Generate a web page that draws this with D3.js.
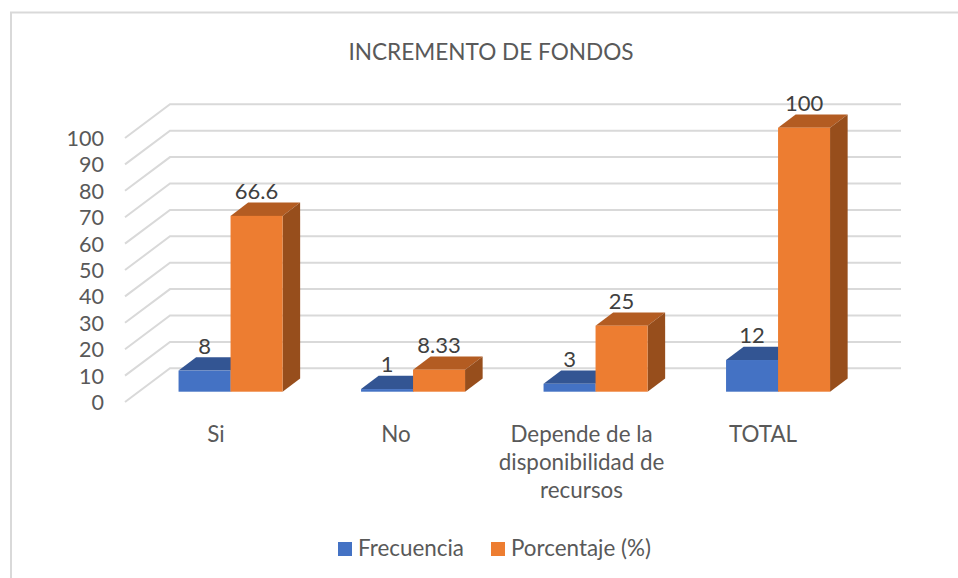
<!DOCTYPE html>
<html><head><meta charset="utf-8">
<script src="https://cdn.jsdelivr.net/npm/d3@7/dist/d3.min.js"></script>
<style>html,body{margin:0;background:#fff}svg{display:block}text{font-family:Lato,"Open Sans",sans-serif;fill:#595959}</style>
</head><body><div id="c"></div>
<script>
const categories=["Si","No","Depende de la disponibilidad de recursos","TOTAL"];
const categoryLines=[["Si"],["No"],["Depende de la","disponibilidad de","recursos"],["TOTAL"]];
const frecuencia=[8,1,3,12];
const porcentaje=[66.6,8.33,25,100];
const porcentajeLabels=["66.6","8.33","25","100"];
const ticks=[0,10,20,30,40,50,60,70,80,90,100];
const seriesNames=["Frecuencia","Porcentaje (%)"];
const W=958,H=578;
const svg=d3.select("#c").append("svg").attr("width",W).attr("height",H);
svg.append("path").attr("d","M11,578V12.5H958").attr("fill","none").attr("stroke","#d9d9d9").attr("stroke-width",2);
const y=d3.scaleLinear().domain([0,100]).range([391.7,127.7]);
const x=d3.scaleBand().domain(categories).range([140.3,870.3]);
const barW=52, depthX=17.6, depthY=13.3;
const wallDX=45, wallDY=33.7, wallLeft=125, wallRight=901;
const wy=v=>y(v)+10.3;
svg.append("text").attr("x",491).attr("y",60).attr("text-anchor","middle").attr("font-size",22.6).text("INCREMENTO DE FONDOS");
const grid=svg.append("g").attr("fill","none").attr("stroke","#d9d9d9").attr("stroke-width",2);
ticks.forEach(t=>{
  grid.append("path").attr("d",d3.line()([[wallLeft,wy(t)],[wallLeft+wallDX,wy(t)-wallDY],[wallRight,wy(t)-wallDY]]));
  svg.append("text").attr("x",104).attr("y",wy(t)+8).attr("text-anchor","end").attr("font-size",21.5).text(t);
});
function bar(g,x0,v,front,top,side){
  const y0=y(0),yt=y(v);
  const pts=a=>a.map(p=>p.join(",")).join(" ");
  g.append("polygon").attr("points",pts([[x0,yt],[x0+depthX,yt-depthY],[x0+barW+depthX,yt-depthY],[x0+barW,yt]])).attr("fill",top);
  g.append("polygon").attr("points",pts([[x0+barW,y0],[x0+barW+depthX,y0-depthY],[x0+barW+depthX,yt-depthY],[x0+barW,yt]])).attr("fill",side);
  g.append("rect").attr("x",x0).attr("y",yt).attr("width",barW).attr("height",y0-yt).attr("fill",front);
}
const g=svg.append("g");
categories.forEach((c,i)=>{
  const cx=x(c)+x.bandwidth()/2;
  const bx=cx-barW-1;
  bar(g,bx,frecuencia[i],"#4472c4","#335593","#335593");
  bar(g,bx+barW,porcentaje[i],"#ed7d31","#b35c22","#974e1c");
  g.append("text").attr("x",bx+barW/2).attr("y",y(frecuencia[i])-17).attr("text-anchor","middle").attr("font-size",22).style("fill","#404040").text(frecuencia[i]);
  g.append("text").attr("x",bx+barW*1.5).attr("y",y(porcentaje[i])-17).attr("text-anchor","middle").attr("font-size",22).style("fill","#404040").text(porcentajeLabels[i]);
  categoryLines[i].forEach((l,k)=>{
    svg.append("text").attr("x",cx+[-15.5,-18,-15,-16][i]).attr("y",441.5+k*28.3).attr("text-anchor","middle").attr("font-size",22.4).text(l);
  });
});
const leg=svg.append("g");
[[338,"#4472c4",358],[491,"#ed7d31",511]].forEach((d,i)=>{
  leg.append("rect").attr("x",d[0]).attr("y",542).attr("width",14).attr("height",14).attr("fill",d[1]);
  leg.append("text").attr("x",d[2]).attr("y",556).attr("font-size",22.4).text(seriesNames[i]);
});
</script></body></html>
